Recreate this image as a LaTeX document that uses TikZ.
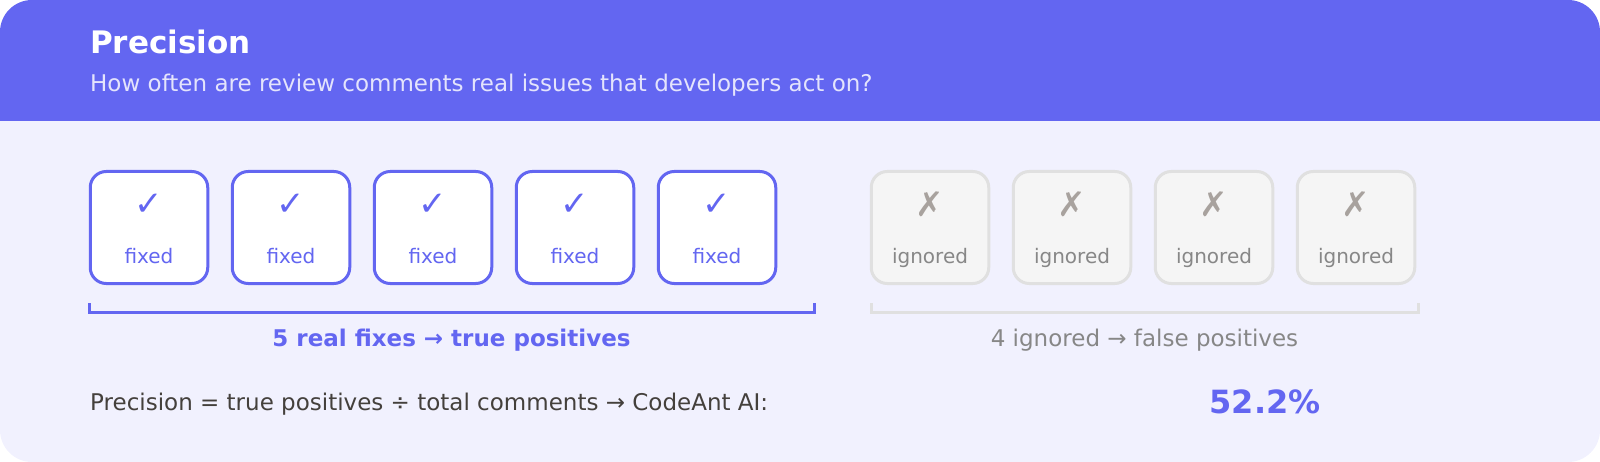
\documentclass[tikz,border=0pt]{standalone}
\usepackage{fontspec}
\setmainfont{DejaVu Sans}
\usetikzlibrary{positioning,calc}
\usepackage{xcolor}

\definecolor{indigo}{HTML}{6366F1}
\definecolor{cardbg}{HTML}{F1F1FE}
\definecolor{subwhite}{HTML}{E4E4FC}
\definecolor{boxgray}{HTML}{F5F5F5}
\definecolor{edgegray}{HTML}{E0E0E0}
\definecolor{crossgray}{HTML}{A8A29E}
\definecolor{labelgray}{HTML}{878787}
\definecolor{textdark}{HTML}{44403C}

\begin{document}
\begin{tikzpicture}[
    x=1pt, y=-1pt,
    every node/.style={inner sep=0pt},
    fixbox/.style={
        rectangle,
        draw=indigo,
        line width=3pt,
        fill=white,
        rounded corners=16pt,
        minimum width=117.5pt,
        minimum height=112pt
    },
    ignbox/.style={
        fixbox,
        draw=edgegray,
        fill=boxgray
    },
    tickmark/.style={font=\fontsize{34}{38}\selectfont, text=indigo},
    crossmark/.style={font=\fontsize{34}{38}\selectfont, text=crossgray},
    fixlabel/.style={font=\fontsize{20}{24}\selectfont, text=indigo},
    ignlabel/.style={font=\fontsize{20}{24}\selectfont, text=labelgray},
    bracket/.style={line width=3pt, line join=miter}
]

% Card and header
\useasboundingbox (0,0) rectangle (1600,462);
\fill[cardbg] (0,0) [rounded corners=32pt] rectangle (1600,462);
\begin{scope}
    \clip[rounded corners=32pt] (0,0) rectangle (1600,462);
    \fill[indigo] (0,0) rectangle (1600,121);
\end{scope}

\node[anchor=base west, text=white, font=\bfseries\fontsize{31}{36}\selectfont] (title) at (90,54) {Precision};
\node[anchor=base west, text=subwhite, font=\fontsize{23}{28}\selectfont] (subtitle) at (90,92)
    {How often are review comments real issues that developers act on?};

% Fixed comments
\foreach \i in {1,...,5} {
    \pgfmathsetmacro{\cx}{149+142*(\i-1)}
    \node[fixbox] (fix\i) at (\cx,227.5) {};
    \node[tickmark] (tick\i) at ([yshift=23pt]fix\i.center) {✓};
    \node[fixlabel, anchor=base] (fixtxt\i) at ([yshift=-36pt]fix\i.center) {fixed};
}

% Ignored comments
\foreach \i in {1,...,4} {
    \pgfmathsetmacro{\cx}{930+142*(\i-1)}
    \node[ignbox] (ign\i) at (\cx,227.5) {};
    \node[crossmark] (cross\i) at ([yshift=23pt]ign\i.center) {✗};
    \node[ignlabel, anchor=base] (igntxt\i) at ([yshift=-36pt]ign\i.center) {ignored};
}

% Brackets
\coordinate (fixL) at (89,303);
\coordinate (fixR) at (814,303);
\coordinate (ignL) at (871,303);
\coordinate (ignR) at (1418,303);
\draw[bracket, indigo] (fixL) -- ++(0,9) -| (fixR);
\draw[bracket, edgegray] (ignL) -- ++(0,9) -| (ignR);

\node[text=indigo, font=\bfseries\fontsize{23}{28}\selectfont] (fixsum) at ($(fixL)!0.5!(fixR)+(0,37)$) {5 real fixes → true positives};
\node[text=labelgray, font=\fontsize{23}{28}\selectfont] (ignsum) at ($(ignL)!0.5!(ignR)+(0,37)$) {4 ignored → false positives};

% Formula
\node[anchor=west, text=textdark, font=\fontsize{23}{28}\selectfont] (formula) at (90,404)
    {Precision = true positives ÷ total comments → CodeAnt AI:};
\node[text=indigo, font=\bfseries\fontsize{32}{38}\selectfont] (value) at (1265,402) {52.2\%};

\end{tikzpicture}
\end{document}
